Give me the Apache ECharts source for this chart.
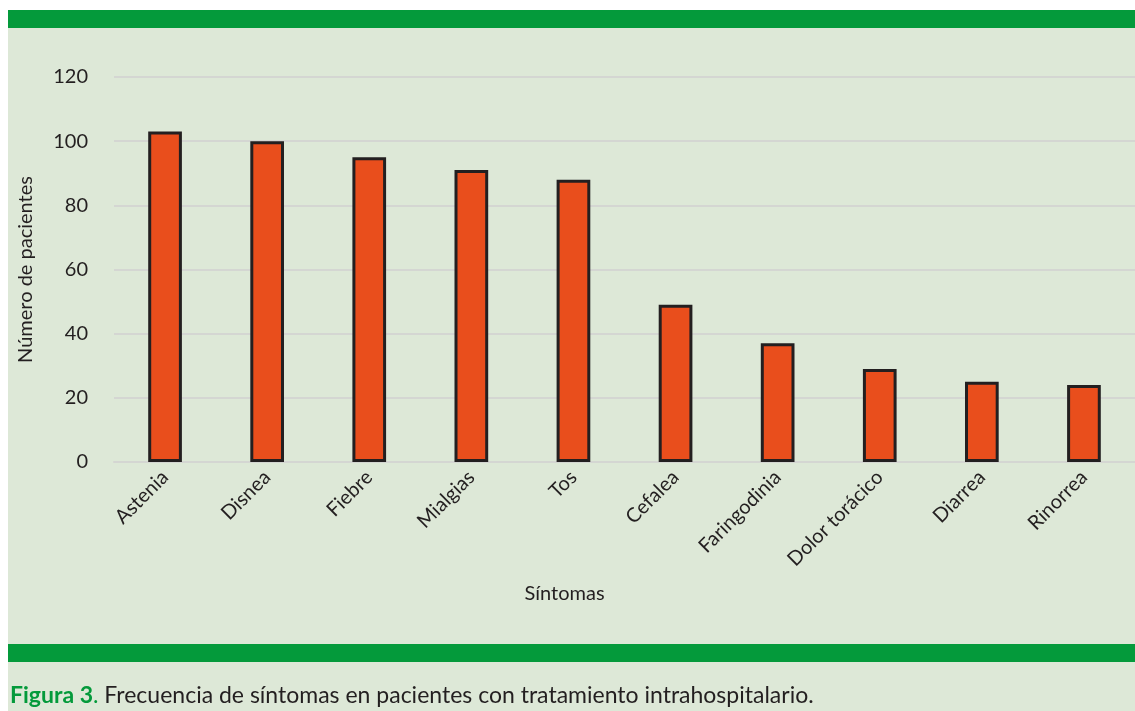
<!DOCTYPE html>
<html><head><meta charset="utf-8">
<script src="https://cdn.jsdelivr.net/npm/echarts@6/dist/echarts.min.js"></script>
<style>html,body{margin:0;padding:0;background:#fff;}#c{width:1135px;height:711px;}</style>
</head><body><div id="c"></div>
<script>
const categories = ['Astenia','Disnea','Fiebre','Mialgias','Tos','Cefalea','Faringodinia','Dolor torácico','Diarrea','Rinorrea'];
const values = [103,100,95,91,88,49,37,29,25,24];
const yTicks = [0,20,40,60,80,100,120];
const yAxisName = 'Número de pacientes';
const xAxisName = 'Síntomas';
const captionBold = 'Figura 3';
const captionRest = 'Frecuencia de síntomas en pacientes con tratamiento intrahospitalario.';

const font = 'Lato, "Open Sans", sans-serif';
const chart = echarts.init(document.getElementById('c'), null, {renderer:'canvas'});
chart.setOption({
  backgroundColor: '#ffffff',
  animation: false,
  graphic: [
    {type:'rect', z:-10, shape:{x:8,y:10,width:1127,height:701}, style:{fill:'#dde8d7'}},
    {type:'rect', z:-9, shape:{x:8,y:10,width:1127,height:18}, style:{fill:'#049a3b'}},
    {type:'rect', z:-9, shape:{x:8,y:644,width:1127,height:18}, style:{fill:'#049a3b'}},
    {type:'text', left:10, top:684, style:{
      rich:{b:{fill:'#049a3b',fontWeight:'bold',fontSize:23,fontFamily:font},
            g:{fill:'#049a3b',fontSize:23,fontFamily:font},
            n:{fill:'#231f20',fontSize:23,fontFamily:font}},
      text:'{b|'+captionBold+'}{g|.}{n| '+captionRest+'}'}}
  ],
  grid: {left:114, top:77, width:1026, height:385, containLabel:false},
  xAxis: {
    type:'category', data:categories,
    name:xAxisName, nameLocation:'middle', nameGap:122,
    nameTextStyle:{color:'#231f20',fontSize:20,fontFamily:font,padding:[0,120,0,0]},
    axisLine:{show:true, lineStyle:{color:'#d4d6d2', width:2}},
    axisTick:{show:false},
    axisLabel:{rotate:45, color:'#231f20', fontSize:20, fontFamily:font, margin:12, interval:0}
  },
  yAxis: {
    type:'value', min:0, max:120, interval:20,
    name:yAxisName, nameLocation:'middle', nameGap:78, nameRotate:90,
    nameTextStyle:{color:'#231f20',fontSize:20,fontFamily:font},
    axisLine:{show:false}, axisTick:{show:false},
    axisLabel:{color:'#231f20', fontSize:20, fontFamily:font, margin:26,
      formatter:(v)=> yTicks.includes(v) ? String(v) : ''},
    splitLine:{lineStyle:{color:'#d4d6d2', width:2}}
  },
  series: [{
    type:'bar', data:values, barWidth:'33%',
    itemStyle:{color:'#e94e1c', borderColor:'#231f20', borderWidth:3}
  }]
});
</script></body></html>
